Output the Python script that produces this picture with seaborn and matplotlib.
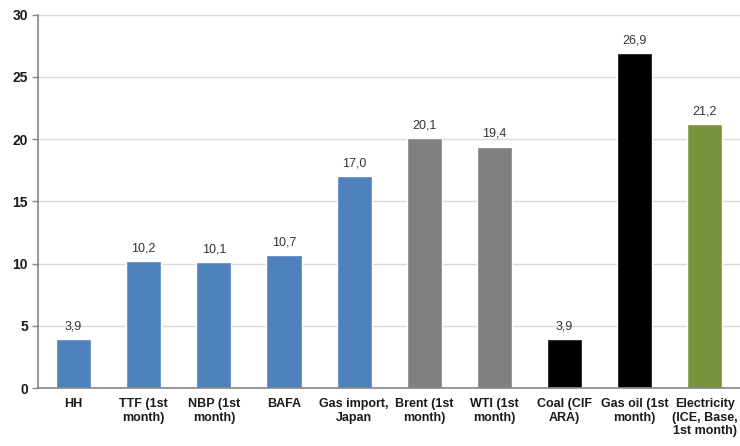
import matplotlib
matplotlib.use("Agg")
import matplotlib.pyplot as plt
import seaborn as sns
import pandas as pd

categories = ["HH", "TTF (1st\nmonth)", "NBP (1st\nmonth)", "BAFA", "Gas import,\nJapan",
              "Brent (1st\nmonth)", "WTI (1st\nmonth)", "Coal (CIF\nARA)", "Gas oil (1st\nmonth)",
              "Electricity\n(ICE, Base,\n1st month)"]
values = [3.9, 10.2, 10.1, 10.7, 17.0, 20.1, 19.4, 3.9, 26.9, 21.2]
colors = ["#4F81BD"] * 5 + ["#808080"] * 2 + ["#000000"] * 2 + ["#77933C"]
y_ticks = [0, 5, 10, 15, 20, 25, 30]

sns.set_theme(style="white")
plt.rcParams["font.family"] = ["Liberation Sans", "DejaVu Sans"]

df = pd.DataFrame({"cat": categories, "val": values})

fig = plt.figure(figsize=(7.4, 4.46), dpi=100)
ax = fig.add_axes([0.052, 0.13, 0.948, 0.837])

sns.barplot(data=df, x="cat", y="val", hue="cat", palette=colors, legend=False,
            width=0.5, ax=ax, saturation=1)

ax.set_xlim(-0.5, len(categories) - 0.5)
ax.set_ylim(0, 30)
ax.set_yticks(y_ticks)
ax.yaxis.grid(True, color="#D9D9D9", linewidth=1)
ax.set_axisbelow(True)
for s in ["top", "right"]:
    ax.spines[s].set_visible(False)
for s in ["left", "bottom"]:
    ax.spines[s].set_color("#868686")
    ax.spines[s].set_linewidth(1.2)

ax.set_xlabel("")
ax.set_ylabel("")
ax.set_xticks(range(len(categories)))
ax.set_xticklabels(categories, fontsize=9, fontweight="bold", color="#1a1a1a",
                   linespacing=1.2)
ax.tick_params(axis="x", length=0, pad=7)
ax.set_xticks([i + 0.5 for i in range(-1, len(categories))], minor=True)
ax.tick_params(axis="x", which="minor", length=4, color="#868686", width=1)
ax.tick_params(axis="y", length=4, color="#868686", width=1, labelsize=10, left=True)
for lab in ax.get_yticklabels():
    lab.set_fontweight("bold")
    lab.set_color("#1a1a1a")

for i, v in enumerate(values):
    ax.text(i, v + 0.55, f"{v:.1f}".replace(".", ","), ha="center", va="bottom",
            fontsize=9, color="#333333")

fig.savefig("out.png", dpi=100)
